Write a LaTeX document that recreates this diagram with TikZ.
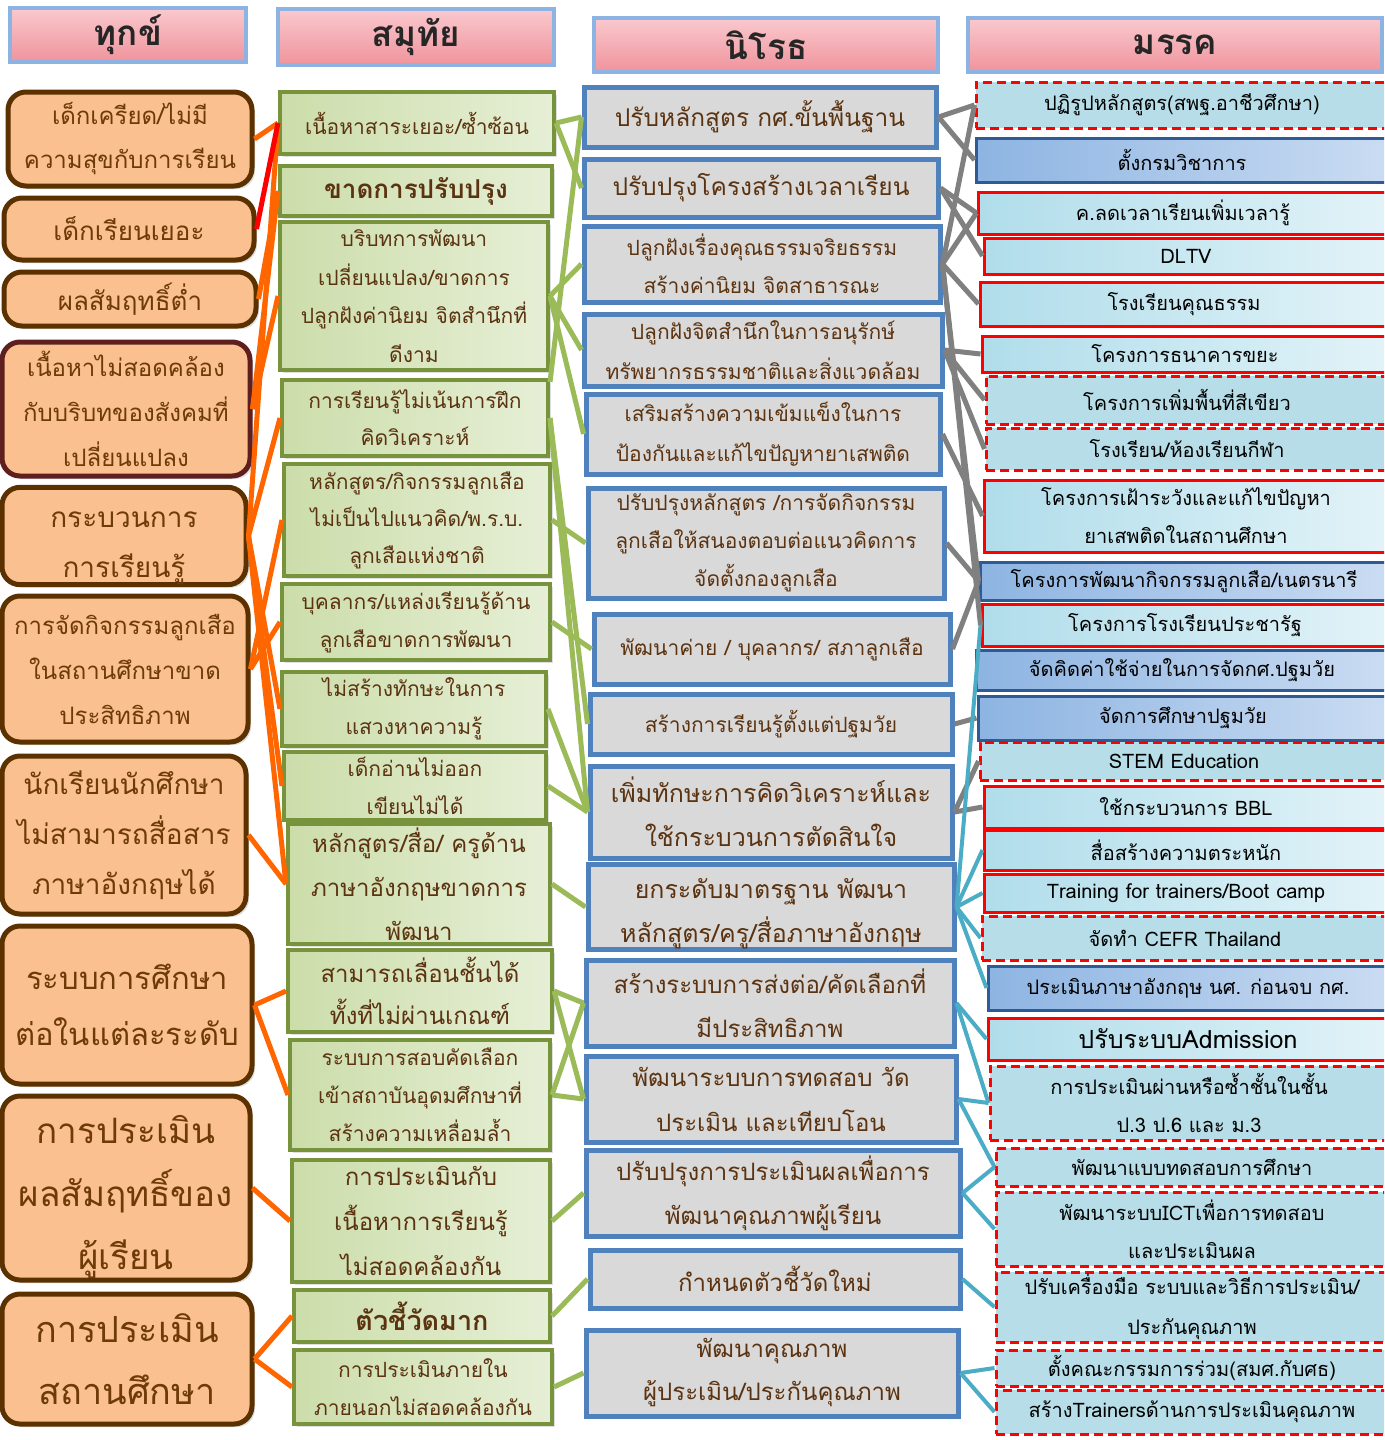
\documentclass[tikz,border=0pt]{standalone}
\usepackage{fontspec}
\newfontfamily\thai[Script=Thai]{Loma}
\usetikzlibrary{shadows}
\definecolor{oL}{HTML}{FF6600}
\definecolor{rL}{HTML}{FF0000}
\definecolor{gL}{HTML}{9BBB59}
\definecolor{grL}{HTML}{808080}
\definecolor{tL}{HTML}{4BACC6}
\definecolor{c1fill}{HTML}{FAC090}
\definecolor{c1bord}{HTML}{5C3100}
\definecolor{c1bord2}{HTML}{5F1F1F}
\definecolor{c1txt}{HTML}{6E3A06}
\definecolor{c2bord}{HTML}{77933C}
\definecolor{c2l}{HTML}{CCDDAA}
\definecolor{c2r}{HTML}{E6EFD6}
\definecolor{btxt}{HTML}{5C3310}
\definecolor{c3bord}{HTML}{4F81BD}
\definecolor{c3fill}{HTML}{D9D9D9}
\definecolor{hbord}{HTML}{8DB3E2}
\definecolor{htop}{HTML}{F9C9CE}
\definecolor{hbot}{HTML}{F0939C}
\definecolor{dplain}{HTML}{B7DEE8}
\definecolor{dcl}{HTML}{B0DDEA}
\definecolor{dcr}{HTML}{E2F3F8}
\definecolor{dbl}{HTML}{8DB4E2}
\definecolor{dbr}{HTML}{CADCF2}
\definecolor{dbord}{HTML}{2E5B93}
\tikzset{
  sz/.style 2 args={font=\thai\fontsize{#1}{#2}\selectfont},
  box/.style 2 args={minimum width=#1pt, minimum height=#2pt},
  hdr/.style={draw=hbord, line width=4pt, top color=htop, bottom color=hbot, text=black!85, inner sep=0pt, font=\thai\bfseries\fontsize{35}{38}\selectfont},
  cone/.style={draw=c1bord, fill=c1fill, line width=5pt, rounded corners=18pt, align=center, text=c1txt, inner sep=0pt,
    drop shadow={opacity=0.25, shadow xshift=3pt, shadow yshift=-3pt}},
  ctwo/.style={draw=c2bord, left color=c2l, right color=c2r, line width=4pt, align=center, text=btxt, inner sep=0pt,
    drop shadow={opacity=0.25, shadow xshift=3pt, shadow yshift=-3pt}},
  cthree/.style={draw=c3bord, fill=c3fill, line width=5pt, align=center, text=btxt, inner sep=0pt,
    drop shadow={opacity=0.25, shadow xshift=3pt, shadow yshift=-3pt}},
  ddash/.style={draw=rL, dashed, dash pattern=on 9pt off 5pt, fill=dplain, line width=3pt, align=center, text=black, inner sep=0pt},
  dred/.style={draw=rL, left color=dcl, right color=dcr, line width=3pt, align=center, text=black, inner sep=0pt},
  dblue/.style={draw=dbord, left color=dbl, right color=dbr, line width=3pt, align=center, text=black, inner sep=0pt},
  oline/.style={draw=oL, line width=5pt},
  rline/.style={draw=rL, line width=5pt},
  gline/.style={draw=gL, line width=5pt},
  grline/.style={draw=grL, line width=5pt},
  tline/.style={draw=tL, line width=4pt},
}
\begin{document}
\begin{tikzpicture}[x=1pt,y=-1pt]
\useasboundingbox (0,0) rectangle (1384,1440);
\fill[white] (0,0) rectangle (1384,1440);
\clip (0,0) rectangle (1384,1440);

% headers
\node[hdr, box={236}{54}] (h1) at (128,35) {ทุกข์};
\node[hdr, box={276}{56}] (h2) at (416,37) {สมุทัย};
\node[hdr, box={344}{54}] (h3) at (766,45) {นิโรธ};
\node[hdr, box={414}{54}] (h4) at (1175,45) {มรรค};

% column 1
\node[cone, box={244}{94}, sz={24}{44}] (c1a) at (130,139) {เด็กเครียด/ไม่มี\\ความสุขกับการเรียน};
\node[cone, box={250}{62}, sz={26}{40}] (c1b) at (129,229) {เด็กเรียนเยอะ};
\node[cone, box={252}{54}, sz={26}{40}] (c1c) at (130,299) {ผลสัมฤทธิ์ต่ำ};
\node[cone, draw=c1bord2, box={248}{134}, sz={24}{45}] (c1d) at (126,409) {เนื้อหาไม่สอดคล้อง\\กับบริบทของสังคมที่\\เปลี่ยนแปลง};
\node[cone, box={244}{92}, sz={28}{50}] (c1e) at (124,536) {\rule{0pt}{40pt}กระบวนการ\\การเรียนรู้};
\node[cone, box={246}{146}, sz={24}{45}] (c1f) at (125,669) {การจัดกิจกรรมลูกเสือ\\ในสถานศึกษาขาด\\ประสิทธิภาพ};
\node[cone, box={244}{158}, sz={28}{50}] (c1g) at (124,835) {นักเรียนนักศึกษา\\ไม่สามารถสื่อสาร\\ภาษาอังกฤษได้};
\node[cone, box={250}{158}, sz={31}{56}] (c1h) at (127,1005) {ระบบการศึกษา\\ต่อในแต่ละระดับ};
\node[cone, box={248}{184}, sz={35}{63}] (c1i) at (126,1188) {\rule{0pt}{46pt}การประเมิน\\ผลสัมฤทธิ์ของ\\ผู้เรียน};
\node[cone, box={250}{130}, sz={36}{62}] (c1j) at (127,1359) {การประเมิน\\สถานศึกษา};

% column 2
\node[ctwo, box={274}{62}, sz={21}{38}] (c2a) at (417,123) {เนื้อหาสาระเยอะ/ซ้ำซ้อน};
\node[ctwo, box={272}{50}, sz={26}{38}] (c2b) at (416,191) {\bfseries ขาดการปรับปรุง};
\node[ctwo, box={268}{148}, sz={21}{38.5}] (c2c) at (414,296) {บริบทการพัฒนา\\เปลี่ยนแปลง/ขาดการ\\ปลูกฝังค่านิยม จิตสำนึกที่\\ดีงาม};
\node[ctwo, box={266}{76}, sz={21}{37}] (c2d) at (415,418) {การเรียนรู้ไม่เน้นการฝึก\\คิดวิเคราะห์};
\node[ctwo, box={266}{112}, sz={21}{37}] (c2e) at (417,520) {หลักสูตร/กิจกรรมลูกเสือ\\ไม่เป็นไปแนวคิด/พ.ร.บ.\\ลูกเสือแห่งชาติ};
\node[ctwo, box={268}{76}, sz={21}{38}] (c2f) at (416,622) {บุคลากร/แหล่งเรียนรู้ด้าน\\ลูกเสือขาดการพัฒนา};
\node[ctwo, box={264}{74}, sz={21}{38}] (c2g) at (414,709) {ไม่สร้างทักษะในการ\\แสวงหาความรู้};
\node[ctwo, box={262}{68}, sz={21}{38}] (c2h) at (415,786) {เด็กอ่านไม่ออก\\เขียนไม่ได้};
\node[ctwo, box={262}{120}, sz={24}{44}] (c2i) at (419,884) {หลักสูตร/สื่อ/ ครูด้าน\\ภาษาอังกฤษขาดการ\\พัฒนา};
\node[ctwo, box={264}{82}, sz={24}{42}] (c2j) at (420,991) {สามารถเลื่อนชั้นได้\\ทั้งที่ไม่ผ่านเกณฑ์};
\node[ctwo, box={260}{110}, sz={21}{38}] (c2k) at (420,1095) {ระบบการสอบคัดเลือก\\เข้าสถาบันอุดมศึกษาที่\\สร้างความเหลื่อมล้ำ};
\node[ctwo, box={258}{122}, sz={24}{45}] (c2l) at (421,1221) {การประเมินกับ\\เนื้อหาการเรียนรู้\\ไม่สอดคล้องกัน};
\node[ctwo, box={256}{52}, sz={27}{38}] (c2m) at (422,1316) {\bfseries ตัวชี้วัดมาก};
\node[ctwo, box={258}{74}, sz={21}{38}] (c2n) at (423,1387) {การประเมินภายใน\\ภายนอกไม่สอดคล้องกัน};

% column 3
\node[cthree, box={352}{60}, sz={24.5}{40}] (c3a) at (760,117) {ปรับหลักสูตร กศ.ขั้นพื้นฐาน};
\node[cthree, box={354}{58}, sz={24.5}{40}] (c3b) at (761,188) {ปรับปรุงโครงสร้างเวลาเรียน};
\node[cthree, box={356}{76}, sz={21}{38}] (c3c) at (762,264) {ปลูกฝังเรื่องคุณธรรมจริยธรรม\\สร้างค่านิยม จิตสาธารณะ};
\node[cthree, box={358}{72}, sz={21}{40}] (c3d) at (763,350) {ปลูกฝังจิตสำนึกในการอนุรักษ์\\ทรัพยากรธรรมชาติและสิ่งแวดล้อม};
\node[cthree, box={354}{80}, sz={21}{40}] (c3e) at (763,434) {เสริมสร้างความเข้มแข็งในการ\\ป้องกันและแก้ไขปัญหายาเสพติด};
\node[cthree, box={356}{110}, sz={21}{38}] (c3f) at (766,543) {ปรับปรุงหลักสูตร /การจัดกิจกรรม\\ลูกเสือให้สนองตอบต่อแนวคิดการ\\จัดตั้งกองลูกเสือ};
\node[cthree, box={356}{70}, sz={21}{38}] (c3g) at (772,649) {พัฒนาค่าย / บุคลากร/ สภาลูกเสือ};
\node[cthree, box={362}{60}, sz={21}{38}] (c3h) at (771,724) {สร้างการเรียนรู้ตั้งแต่ปฐมวัย};
\node[cthree, box={362}{92}, sz={25}{44}] (c3i) at (771,812) {เพิ่มทักษะการคิดวิเคราะห์และ\\ใช้กระบวนการตัดสินใจ};
\node[cthree, box={366}{82}, sz={25}{44}] (c3j) at (771,907) {\rule{0pt}{34pt}ยกระดับมาตรฐาน พัฒนา\\หลักสูตร/ครู/สื่อภาษาอังกฤษ};
\node[cthree, box={368}{86}, sz={24}{44}] (c3k) at (770,1003) {สร้างระบบการส่งต่อ/คัดเลือกที่\\มีประสิทธิภาพ};
\node[cthree, box={370}{86}, sz={24}{45}] (c3l) at (771,1099) {พัฒนาระบบการทดสอบ วัด\\ประเมิน และเทียบโอน};
\node[cthree, box={374}{86}, sz={24}{44}] (c3m) at (773,1193) {ปรับปรุงการประเมินผลเพื่อการ\\พัฒนาคุณภาพผู้เรียน};
\node[cthree, box={370}{58}, sz={24}{40}] (c3n) at (775,1279) {กำหนดตัวชี้วัดใหม่};
\node[cthree, box={372}{86}, sz={24}{43}] (c3o) at (772,1373) {พัฒนาคุณภาพ\\ผู้ประเมิน/ประกันคุณภาพ};

% column 4
\node[ddash, box={412}{46}, sz={20}{38}] (d1) at (1182,105) {ปฏิรูปหลักสูตร(สพฐ.อาชีวศึกษา)};
\node[dblue, box={412}{44}, sz={20}{38}] (d2) at (1182,160) {ตั้งกรมวิชาการ};
\node[dred, box={410}{42}, sz={20}{38}] (d3) at (1183,213) {ค.ลดเวลาเรียนเพิ่มเวลารู้};
\node[dred, box={404}{36}, sz={20}{38}] (d4) at (1186,256) {DLTV};
\node[dred, box={408}{44}, sz={20}{38}] (d5) at (1184,304) {โรงเรียนคุณธรรม};
\node[dred, box={406}{36}, sz={20}{38}] (d6) at (1185,354) {โครงการธนาคารขยะ};
\node[ddash, box={402}{48}, sz={20}{38}] (d7) at (1187,400) {โครงการเพิ่มพื้นที่สีเขียว};
\node[ddash, box={402}{42}, sz={20}{38}] (d8) at (1187,449) {โรงเรียน/ห้องเรียนกีฬา};
\node[dred, box={404}{72}, sz={20}{38}] (d9) at (1186,516) {โครงการเฝ้าระวังและแก้ไขปัญหา\\ยาเสพติดในสถานศึกษา};
\node[dblue, box={408}{38}, sz={20}{38}] (d10) at (1184,581) {โครงการพัฒนากิจกรรมลูกเสือ/เนตรนารี};
\node[dred, box={406}{42}, sz={20}{38}] (d11) at (1185,625) {โครงการโรงเรียนประชารัฐ};
\node[dblue, box={412}{40}, sz={20}{38}] (d12) at (1182,670) {จัดคิดค่าใช้จ่ายในการจัดกศ.ปฐมวัย};
\node[dblue, box={410}{44}, sz={20}{38}] (d13) at (1183,718) {จัดการศึกษาปฐมวัย};
\node[ddash, box={408}{38}, sz={20}{38}] (d14) at (1184,761) {STEM Education};
\node[dred, box={404}{42}, sz={20}{38}] (d15) at (1186,807) {ใช้กระบวนการ BBL};
\node[dred, box={404}{40}, sz={20}{38}] (d16) at (1186,850) {สื่อสร้างความตระหนัก};
\node[dred, box={404}{38}, sz={20}{38}] (d17) at (1186,893) {Training for trainers/Boot camp};
\node[ddash, box={406}{44}, sz={20}{38}] (d18) at (1185,938) {จัดทำ CEFR Thailand};
\node[dblue, box={400}{44}, sz={20}{38}] (d19) at (1188,988) {ประเมินภาษาอังกฤษ นศ. ก่อนจบ กศ.};
\node[dred, box={400}{42}, sz={25}{38}] (d20) at (1188,1039) {ปรับระบบAdmission};
\node[ddash, box={398}{74}, sz={20}{38}] (d21) at (1189,1103) {การประเมินผ่านหรือซ้ำชั้นในชั้น\\ป.3 ป.6 และ ม.3};
\node[ddash, box={392}{38}, sz={20}{38}] (d22) at (1192,1167) {พัฒนาแบบทดสอบการศึกษา};
\node[ddash, box={392}{74}, sz={20}{38}] (d23) at (1192,1229) {พัฒนาระบบICTเพื่อการทดสอบ\\และประเมินผล};
\node[ddash, box={392}{70}, sz={20}{40}] (d24) at (1192,1307) {ปรับเครื่องมือ ระบบและวิธีการประเมิน/\\ประกันคุณภาพ};
\node[ddash, box={392}{36}, sz={20}{38}] (d25) at (1192,1368) {ตั้งคณะกรรมการร่วม(สมศ.กับศธ)};
\node[ddash, box={392}{44}, sz={20}{38}] (d26) at (1192,1412) {สร้างTrainersด้านการประเมินคุณภาพ};

% column 1 -> column 2
\foreach \a/\b in {c1a/c2a, c1c/c2b, c1d/c2b, c1d/c2c, c1e/c2a, c1e/c2d, c1e/c2g, c1e/c2h, c1e/c2i,
                   c1f/c2e, c1f/c2f, c1g/c2i, c1h/c2j, c1h/c2k, c1i/c2l, c1j/c2m, c1j/c2n}
  \draw[oline] (\a.east) -- (\b.west);
\draw[rline] (c1b.east) -- (c2a.west);

% column 2 -> column 3
\foreach \a/\b in {c2a/c3a, c2a/c3b, c2c/c3c, c2c/c3d, c2c/c3e, c2d/c3h, c2d/c3i, c2e/c3f, c2f/c3g,
                   c2g/c3i, c2h/c3i, c2i/c3j, c2j/c3k, c2j/c3l, c2k/c3k, c2k/c3l, c2l/c3m, c2m/c3n, c2n/c3o}
  \draw[gline] (\a.east) -- (\b.west);
\draw[gline] ([yshift=-4pt]c2d.north east) -- (c3a.west);

% column 3 -> column 4
\foreach \a/\b in {c3a/d1, c3a/d2, c3b/d3, c3b/d4, c3c/d1, c3c/d3, c3c/d5, c3c/d10, c3c/d11,
                   c3d/d6, c3d/d7, c3d/d8, c3e/d9, c3f/d10, c3g/d10, c3h/d13, c3i/d14, c3i/d15}
  \draw[grline] (\a.east) -- (\b.west);
\foreach \a/\b in {c3j/d11, c3j/d16, c3j/d17, c3j/d18, c3j/d19, c3k/d20, c3k/d21, c3l/d21, c3l/d22,
                   c3m/d22, c3m/d23, c3n/d24, c3o/d25, c3o/d26}
  \draw[tline] (\a.east) -- (\b.west);
\end{tikzpicture}
\end{document}
